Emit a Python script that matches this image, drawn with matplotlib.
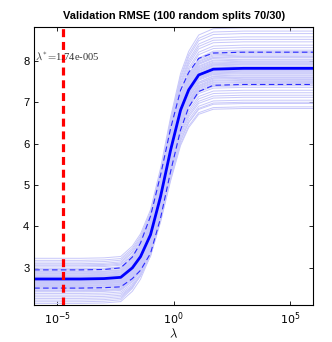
import numpy as np
import matplotlib
matplotlib.use('Agg')
import matplotlib.pyplot as plt

plt.rcParams['mathtext.fontset'] = 'cm'

# --- Data ---
# log10(lambda) grid and mean / std of validation RMSE across splits
LOG_LAMBDA = [-6, -5, -4, -3, -2.28, -1.78, -1.43, -1.0, -0.57, -0.14,
              0.29, 0.64, 1.07, 1.7, 3, 4.5, 6]
MEAN_RMSE = [2.73, 2.73, 2.73, 2.74, 2.77, 3.0, 3.27, 3.8, 4.72, 5.84,
             6.81, 7.3, 7.66, 7.8, 7.82, 7.82, 7.82]
STD_RMSE = [0.22, 0.22, 0.22, 0.22, 0.23, 0.26, 0.33, 0.45, 0.52, 0.52,
            0.48, 0.42, 0.40, 0.39, 0.39, 0.39, 0.39]

# individual splits: plateau levels at small and large lambda
SPLIT_LOW = [3.23, 3.18, 3.14, 3.10, 3.07, 3.02, 2.98, 2.94, 2.90, 2.86,
             2.83, 2.80, 2.78, 2.76, 2.74, 2.72, 2.70, 2.68, 2.66, 2.64,
             2.62, 2.60, 2.58, 2.55, 2.52, 2.50, 2.47, 2.44, 2.42, 2.38,
             2.34, 2.30, 2.26, 2.22, 2.18, 2.14, 2.88, 2.69, 2.56, 2.79,
             2.96, 2.85, 2.75, 2.71, 2.65, 2.61, 2.53, 2.81, 2.67, 2.91,
             2.45, 3.05, 2.77, 2.63, 2.57]
SPLIT_HIGH = [8.80, 8.72, 8.66, 8.58, 8.52, 8.46, 8.38, 8.32, 8.20, 8.14,
              8.08, 8.02, 7.95, 7.90, 7.85, 7.79, 7.73, 7.69, 7.61, 7.55,
              7.48, 7.42, 7.36, 7.29, 7.23, 7.17, 7.12, 7.05, 6.97, 6.89,
              6.85, 7.00, 7.58, 7.92, 8.26, 7.66, 7.99, 7.50, 7.75, 8.10,
              7.87, 8.04, 7.71, 7.64, 7.97, 8.17, 7.53, 7.82, 7.40, 8.23,
              7.77, 7.60, 8.11, 7.45, 7.93]

LAMBDA_STAR = 1.74e-5

lam = 10.0 ** np.array(LOG_LAMBDA)
mean = np.array(MEAN_RMSE)
std = np.array(STD_RMSE)
shape = (mean - mean[0]) / (mean[-1] - mean[0])

fig = plt.figure(figsize=(3.32, 3.42), dpi=100)
ax = fig.add_axes([0.103, 0.108, 0.841, 0.812])

for lo, hi in zip(SPLIT_LOW, SPLIT_HIGH):
    ax.plot(lam, lo + (hi - lo) * shape, color='#c8c8fa', linewidth=0.7)

ax.plot(lam, mean, color='#0000ff', linewidth=2.0)
ax.plot(lam, mean + std, color='#2a2aff', linewidth=0.8, dashes=(5, 3))
ax.plot(lam, mean - std, color='#2a2aff', linewidth=0.8, dashes=(5, 3))

ax.axvline(LAMBDA_STAR, color='#ff0000', linewidth=2.3, dashes=(2.5, 1.5))
ax.text(10 ** -5.98, 8.12, r'$\lambda^{*}\!=\!$1.74e-005', fontsize=7.6,
        family='Liberation Serif', color='#333333', va='center', ha='left')

ax.set_xscale('log')
ax.set_xlim(1e-6, 1e6)
ax.set_ylim(2.1, 8.81)
ax.set_xticks([1e-5, 1e0, 1e5])
ax.set_yticks([3, 4, 5, 6, 7, 8])
ax.minorticks_off()
ax.tick_params(direction='in', length=3, width=0.6, top=True, right=True,
               labelsize=8)
for lab in ax.get_yticklabels():
    lab.set_family('Liberation Sans')
for sp in ax.spines.values():
    sp.set_linewidth(0.8)

ax.set_xlabel(r'$\lambda$', fontsize=9, labelpad=1)
ax.set_title('Validation RMSE (100 random splits 70/30)', fontsize=7.9,
             fontweight='bold', family='Liberation Sans', pad=6)

fig.savefig('out.png', dpi=100)
